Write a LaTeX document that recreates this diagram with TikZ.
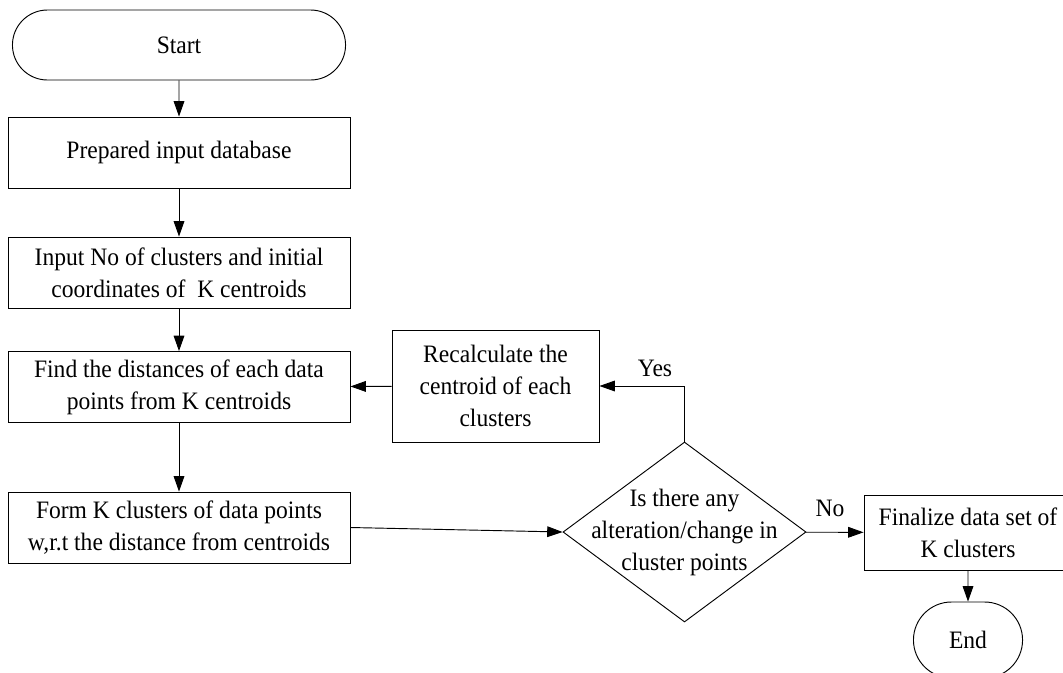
\documentclass[tikz,border=0pt]{standalone}
\usepackage{fontspec}
\setmainfont[FakeStretch=0.94]{Liberation Serif}
\usetikzlibrary{positioning}
\usetikzlibrary{calc}
\usetikzlibrary{arrows.meta,shapes.geometric,shapes.misc}

\begin{document}
\begin{tikzpicture}[x=0.75pt,y=-0.75pt,line width=0.7pt,
  every node/.style={font=\fontsize{18.8}{24}\selectfont},
  term/.style={draw,rounded rectangle,minimum width=256.5pt,minimum height=52.5pt},
  proc/.style={draw,rectangle,align=center,minimum width=256.5pt,minimum height=53.25pt,inner sep=0pt},
  decision/.style={draw,diamond,minimum width=182.25pt,minimum height=135pt,inner sep=0pt},
  arr/.style={-{Triangle[length=11.5pt,width=8pt]}}]
\path[use as bounding box,fill=white] (0,0) rectangle (1063,672);

\node[term](start) at (179,45){Start};
\node[proc](prep) at (179,152.5){Prepared input database};
\node[proc](input) at (179,272.5){Input No of clusters and initial\\coordinates of\ \ K centroids};
\node[proc](find) at (179,387){Find the distances of each data\\points from K centroids};
\node[proc](form) at (179,527.5){Form K clusters of data points\\w,r.t the distance from centroids};
\node[proc,minimum width=155.25pt,minimum height=84pt](recalc) at (495.5,386){Recalculate the\\centroid of each\\clusters};
\node[decision](dec) at (684.5,532){};
\node[align=center](dectext) at (dec){Is there any\\alteration/change in\\cluster points};
\node[proc,minimum width=156pt,minimum height=56.25pt](final) at (968,532.5){Finalize data set of\\K clusters};
\node[term,minimum width=88.5pt,minimum height=57pt](end) at (968,640){End};
\node[](yes) at (655,368){Yes};
\node[](no) at (830,508){No};

\path
(start) edge[arr] (prep)
(prep) edge[arr] (input)
(input) edge[arr] (find)
(find) edge[arr] (form)
(form.east) edge[arr] (dec.west)
(recalc) edge[arr] (find)
(dec) edge[arr] (final)
(final) edge[arr] (end);

\draw[arr] (dec.north) |- (recalc.east);
\end{tikzpicture}
\end{document}
